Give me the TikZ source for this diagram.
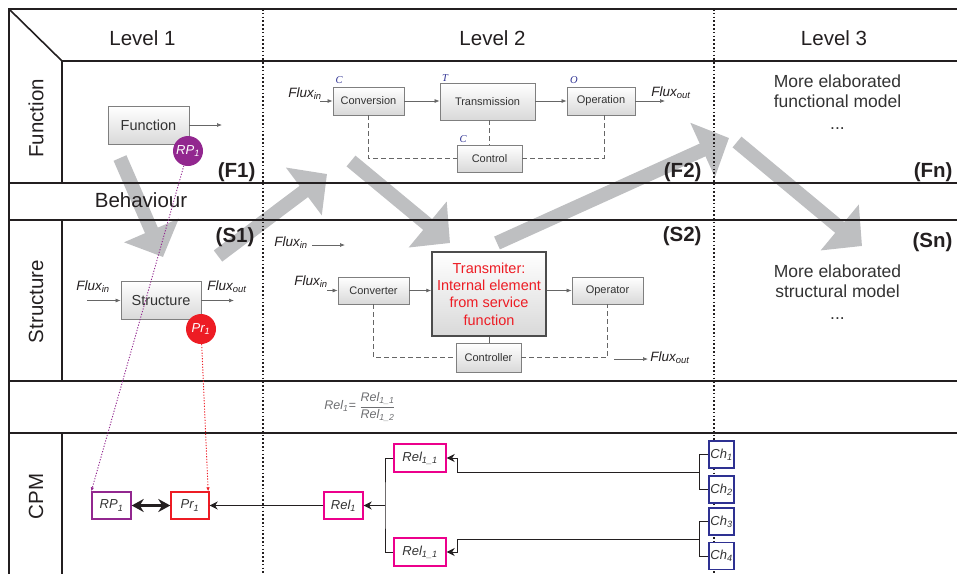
\documentclass[tikz,border=0pt]{standalone}
\usepackage{fontspec}
\setmainfont{Liberation Sans}
\newfontfamily\serifit{Liberation Serif}[ItalicFont={Liberation Serif Italic}]
\usetikzlibrary{arrows.meta,calc}
\definecolor{framec}{HTML}{231F20}
\definecolor{grayarrow}{HTML}{BEBFC1}
\definecolor{purp}{HTML}{92278F}
\definecolor{redc}{HTML}{ED1C24}
\definecolor{mag}{HTML}{EC008C}
\definecolor{navy}{HTML}{2E3192}
\definecolor{boxline}{HTML}{7F7F7F}
\definecolor{txt}{HTML}{333333}
\definecolor{conn}{HTML}{666666}
\definecolor{formc}{HTML}{6D6E71}
\newcommand\fsz[1]{\fontsize{#1}{#1}\selectfont}
\newcommand\fluxtxt[1]{{\itshape Flux\textsubscript{#1}}}
\begin{document}
\begin{tikzpicture}[x=1pt,y=-1pt,
  framel/.style={draw=framec, line width=1.6pt},
  dotl/.style={draw=framec, line width=1.6pt, dash pattern=on 1.6pt off 2.2pt},
  bigarrow/.style={draw=grayarrow, line width=14pt, -{Triangle[width=58pt,length=29pt]}},
  fbox/.style={draw=boxline, line width=0.8pt, top color=white, bottom color=black!15, text=txt, inner sep=1pt},
  conarrow/.style={draw=conn, line width=0.7pt, -{Latex[length=5pt,width=4pt]}},
  dashc/.style={draw=conn, line width=0.8pt, dash pattern=on 5pt off 3pt},
  cpmc/.style={draw=framec, line width=1pt, -{Stealth[length=8pt,width=8pt]}},
  dbl/.style={draw=framec, line width=3.5pt, {Stealth[length=12pt,width=13pt]}-{Stealth[length=12pt,width=13pt]}},
  circ/.style={circle, minimum size=30pt, inner sep=0pt, text=white, font=\fsz{13}\itshape},
  cpmbox/.style={draw=#1, line width=1.4pt, fill=white, text=txt, inner sep=1pt, font=\fsz{13}\itshape},
  lbl/.style={font=\fsz{20.5}, text=framec},
  bold/.style={font=\fsz{20.5}\bfseries, text=framec},
  letter/.style={font=\fsz{10.5}\serifit\itshape, text=navy},
  fluxl/.style={font=\fsz{13.5}, text=framec},
  elab/.style={font=\fontsize{17.5}{20}\selectfont, text=txt, align=center, inner sep=0pt, anchor=north}
]
\useasboundingbox (0,0) rectangle (957,574);

% big gray arrows (background)
\coordinate (a1s) at (120,158); \coordinate (a1t) at (163,257);
\coordinate (a2s) at (218,256); \coordinate (a2t) at (327,174);
\coordinate (a3s) at (351,161); \coordinate (a3t) at (450,243);
\coordinate (a4s) at (497,243); \coordinate (a4t) at (729,138);
\coordinate (a5s) at (737,142); \coordinate (a5t) at (862,246);
\draw[bigarrow] (a1s) -- (a1t);
\draw[bigarrow] (a2s) -- (a2t);
\draw[bigarrow] (a3s) -- (a3t);
\draw[bigarrow] (a4s) -- (a4t);
\draw[bigarrow] (a5s) -- (a5t);

% frame
\draw[framel] (957,9) -- (9,9) -- (9,574);
\draw[framel] (9,9) -- (62,61) -- (957,61);
\draw[framel] (62,61) -- (62,183);
\draw[framel] (62,220) -- (62,381);
\draw[framel] (62,433) -- (62,574);
\draw[framel] (9,183) -- (957,183);
\draw[framel] (9,220) -- (957,220);
\draw[framel] (9,381) -- (957,381);
\draw[framel] (9,433) -- (957,433);
\draw[dotl] (263,9) -- (263,574);
\draw[dotl] (714,9) -- (714,574);

% header and row labels
\node[lbl] (lv1) at (142.5,38) {Level 1};
\node[lbl] (lv2) at (492.5,38) {Level 2};
\node[lbl] (lv3) at (834,38) {Level 3};
\node[lbl, rotate=90] (rf) at (36,118.5) {Function};
\node[lbl, rotate=90] (rs) at (36,301.5) {Structure};
\node[lbl, rotate=90] (rc) at (36,496.5) {CPM};
\node[lbl] (beh) at (141,200) {Behaviour};

\node[bold, anchor=east] (f1) at (259,172.5) {(F1)};
\node[bold, anchor=east] (f2) at (705,172.5) {(F2)};
\node[bold, anchor=east] (fn) at (956,172.5) {(Fn)};
\node[bold, anchor=east] (s1) at (258,237) {(S1)};
\node[bold, anchor=east] (s2) at (705,236.5) {(S2)};
\node[bold, anchor=east] (sn) at (956,242) {(Sn)};

% Level 1 function
\node[fbox, minimum width=81pt, minimum height=38pt, font=\fsz{14.5}] (fun) at (148.5,125) {Function};
\coordinate (funout) at (222,125);
\draw[conarrow] (fun.east) -- (funout);
\node[circ, fill=purp] (rp) at (188,151) {RP\textsubscript{1}};

% Level 1 structure
\node[fbox, minimum width=80pt, minimum height=38pt, font=\fsz{14.5}] (str) at (161,300.5) {Structure};
\node[fluxl] (l1in) at (93,287) {\fluxtxt{in}};
\node[fluxl] (l1out) at (227,287) {\fluxtxt{out}};
\coordinate (l1ins) at (87,300.5);
\coordinate (l1oute) at (234,300.5);
\draw[conarrow] (l1ins) -- (str.west);
\draw[conarrow] (str.east) -- (l1oute);
\node[circ, fill=redc] (pr) at (201,329) {Pr\textsubscript{1}};

% Level 2 function
\node[fbox, minimum width=71pt, minimum height=28pt, font=\fsz{11}] (conv) at (368.5,101) {Conversion};
\node[fbox, minimum width=95pt, minimum height=37pt, font=\fsz{11}] (trans) at (487.5,101.5) {Transmission};
\node[fbox, minimum width=68pt, minimum height=28pt, font=\fsz{11}] (op) at (601,101) {Operation};
\node[fbox, minimum width=65pt, minimum height=27pt, font=\fsz{11}] (ctrl) at (489.5,158.5) {Control};
\node[letter] (lc1) at (339,80) {C};
\node[letter] (lt) at (445,78) {T};
\node[letter] (lo) at (574,80) {O};
\node[letter] (lc2) at (463,139.5) {C};
\node[fluxl] (f2in) at (305,94) {\fluxtxt{in}};
\node[fluxl] (f2out) at (671,93) {\fluxtxt{out}};
\coordinate (f2ins) at (320,101);
\coordinate (f2oute) at (665,101);
\draw[conarrow] (f2ins) -- (conv.west);
\draw[conarrow] (conv.east) -- (trans.west |- conv.east);
\draw[conarrow] (trans.east |- op.west) -- (op.west);
\draw[conarrow] (op.east) -- (f2oute);
\draw[dashc] (conv.south) |- (ctrl.west);
\draw[dashc] (trans.south -| ctrl.north) -- (ctrl.north);
\draw[dashc] (ctrl.east) -| ($(op.south)+(3,0)$);

% Level 2 structure
\node[fbox, minimum width=71pt, minimum height=27pt, font=\fsz{11}] (cvt) at (373.5,290.5) {Converter};
\node[fbox, draw=black!70, line width=1.5pt, minimum width=114pt, minimum height=84pt, text=redc, align=center, font=\fontsize{14.5}{17.4}\selectfont] (tr) at (489,294) {Transmiter:\\Internal element\\from service\\function};
\node[fbox, minimum width=71pt, minimum height=27pt, font=\fsz{11}] (opr) at (607.5,290.5) {Operator};
\node[fbox, minimum width=65pt, minimum height=29pt, font=\fsz{11}] (ctrlr) at (488.5,357.5) {Controller};
\node[fluxl] (s2in1) at (291,243) {\fluxtxt{in}};
\node[fluxl] (s2in2) at (311,282) {\fluxtxt{in}};
\node[fluxl] (s2out) at (670,358) {\fluxtxt{out}};
\coordinate (s2a) at (312,245); \coordinate (s2b) at (345,245);
\coordinate (s2c) at (327,290.5);
\coordinate (s2d) at (614,359); \coordinate (s2e) at (648,359);
\draw[conarrow] (s2a) -- (s2b);
\draw[conarrow] (s2c) -- (cvt.west);
\draw[conarrow] (cvt.east) -- (tr.west |- cvt.east);
\draw[conarrow] (tr.east |- opr.west) -- (opr.west);
\draw[conarrow] (s2d) -- (s2e);
\draw[draw=conn, line width=0.8pt] (tr.south) -- (tr.south |- ctrlr.north);
\draw[dashc] (cvt.south) |- (ctrlr.west);
\draw[dashc] (ctrlr.east) -| (opr.south);

% Level 3 texts
\node[elab] (el1) at (837.5,74.5) {More elaborated\\functional model\\[2pt]...};
\node[elab] (el2) at (837.5,264.5) {More elaborated\\structural model\\[2pt]...};

% Relation formula
\node[text=formc, font=\fsz{12.5}] (relf) at (360,407) {\itshape Rel\textsubscript{1}= $\displaystyle\frac{\hbox{\itshape Rel\textsubscript{1\_1}}}{\hbox{\itshape Rel\textsubscript{1\_2}}}$};

% CPM
\node[cpmbox=purp, minimum width=39pt, minimum height=27pt] (rpb) at (111.5,505.5) {RP\textsubscript{1}};
\node[cpmbox=redc, minimum width=38pt, minimum height=27pt] (prb) at (190,505.5) {Pr\textsubscript{1}};
\node[cpmbox=mag, minimum width=39pt, minimum height=27pt] (rel1) at (343.5,505.5) {Rel\textsubscript{1}};
\node[cpmbox=mag, minimum width=52pt, minimum height=28pt] (rela) at (420,458) {Rel\textsubscript{1\_1}};
\node[cpmbox=mag, minimum width=52pt, minimum height=28pt] (relb) at (420,552) {Rel\textsubscript{1\_1}};
\node[cpmbox=navy, line width=1.1pt, minimum width=25pt, minimum height=27pt, inner sep=0.5pt] (ch1) at (721.5,454.5) {Ch\textsubscript{1}};
\node[cpmbox=navy, line width=1.1pt, minimum width=25pt, minimum height=27pt, inner sep=0.5pt] (ch2) at (721.5,489.5) {Ch\textsubscript{2}};
\node[cpmbox=navy, line width=1.1pt, minimum width=25pt, minimum height=27pt, inner sep=0.5pt] (ch3) at (721.5,521.5) {Ch\textsubscript{3}};
\node[cpmbox=navy, line width=1.1pt, minimum width=25pt, minimum height=27pt, inner sep=0.5pt] (ch4) at (721.5,556) {Ch\textsubscript{4}};

\draw[dbl] (rpb.east) -- (prb.west);
\draw[cpmc] (rel1.west) -- (prb.east);
\coordinate (jr) at (385,505.5);
\draw[draw=framec, line width=1pt] (rela.west) -| (jr) |- (relb.west);
\draw[cpmc] (jr) -- (rel1.east);
\coordinate (jc1) at (699,472);
\coordinate (jc2) at (699,539);
\coordinate (k1) at (457,472);
\coordinate (k2) at (457,539);
\draw[draw=framec, line width=1pt] (ch1.west) -| (jc1) |- (ch2.west);
\draw[draw=framec, line width=1pt] (ch3.west) -| (jc2) |- (ch4.west);
\draw[cpmc] (jc1) -- (k1) |- (rela.east);
\draw[cpmc] (jc2) -- (k2) |- (relb.east);

% dotted links from circles to CPM boxes
\draw[draw=purp, line width=0.9pt, dash pattern=on 1.2pt off 1.6pt, -{Latex[length=4pt,width=3.5pt]}] (rp) -- (rpb.north west);
\draw[draw=redc, line width=0.9pt, dash pattern=on 1.2pt off 1.6pt, -{Latex[length=4pt,width=3.5pt]}] (pr) -- ($(prb.north east)+(-1.5,0)$);
\end{tikzpicture}
\end{document}
